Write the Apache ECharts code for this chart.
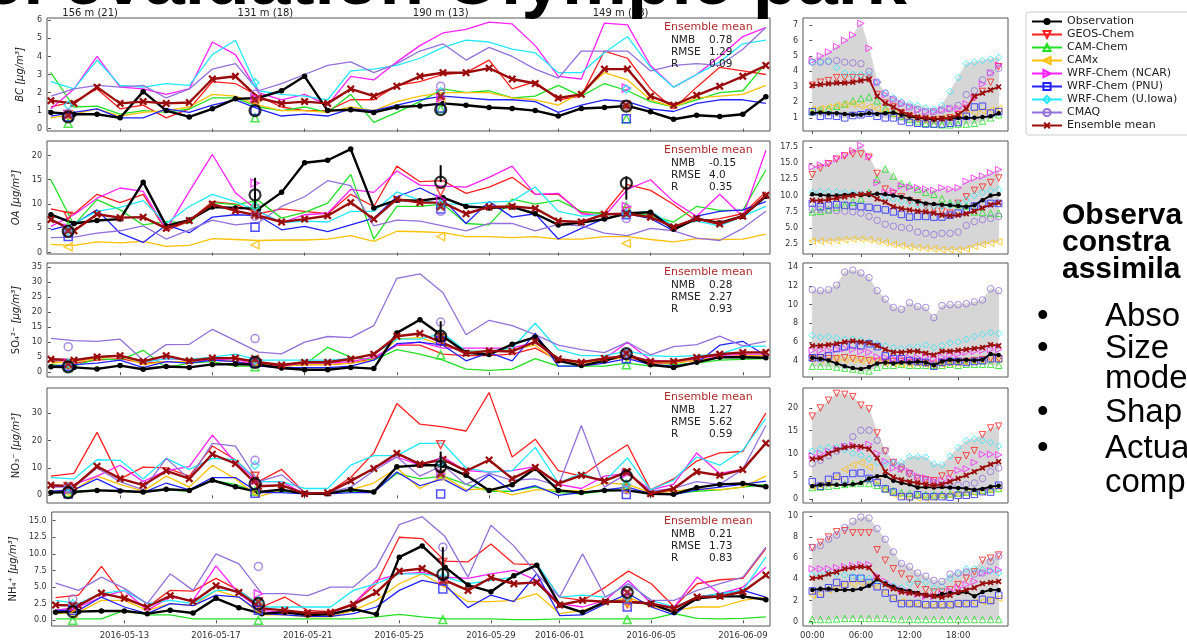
<!DOCTYPE html>
<html>
<head>
<meta charset="utf-8">
<script src="https://cdn.jsdelivr.net/npm/echarts@6/dist/echarts.min.js"></script>
<style>
  html, body { margin: 0; padding: 0; background: #ffffff; }
  #chart { width: 1187px; height: 641px; }
</style>
</head>
<body>
<div id="chart"></div>
<script>
// ---------------------------------------------------------------------------
// Data
// ---------------------------------------------------------------------------
const MODELS = ['Observation', 'GEOS-Chem', 'CAM-Chem', 'CAMx', 'WRF-Chem (NCAR)',
  'WRF-Chem (PNU)', 'WRF-Chem (U.Iowa)', 'CMAQ', 'Ensemble mean'];

// daily series start on 2016-05-10 (day 0); ticks are days since then
const DAY_TICKS = [3, 7, 11, 15, 19, 22, 26, 30];
const DAY_TICK_LABELS = ['2016-05-13', '2016-05-17', '2016-05-21', '2016-05-25',
  '2016-05-29', '2016-06-01', '2016-06-05', '2016-06-09'];
const HOUR_TICKS = [0, 6, 12, 18];
const HOUR_TICK_LABELS = ['00:00', '06:00', '12:00', '18:00'];

// vertical profile sites (day position, label)
const SITE_DAYS = [0.75, 8.85, 16.9, 24.95];
const SITE_LABEL_DAYS = [1.7, 9.3, 16.9, 24.7];
const SITE_LABELS = ['156 m (21)', '131 m (18)', '190 m (13)', '149 m (18)'];

const SPECIES_NAMES = ['BC', 'OA', 'SO₄²⁻ ', 'NO₃⁻ ', 'NH₄⁺ '];

// Ensemble-mean statistics: NMB, RMSE, R
const BC_STATS = ['0.78', '1.29', '0.09'];
const OA_STATS = ['-0.15', '4.0', '0.35'];
const SO4_STATS = ['0.28', '2.27', '0.93'];
const NO3_STATS = ['1.27', '5.62', '0.59'];
const NH4_STATS = ['0.21', '1.73', '0.83'];

// y ticks
const BC_TICKS = [0, 1, 2, 3, 4, 5, 6];
const OA_TICKS = [0, 5, 10, 15, 20];
const SO4_TICKS = [0, 5, 10, 15, 20, 25, 30, 35];
const NO3_TICKS = [0, 10, 20, 30];
const NH4_TICKS = [0, 2.5, 5, 7.5, 10, 12.5, 15];
const BC_HOUR_TICKS = [1, 2, 3, 4, 5, 6, 7];
const OA_HOUR_TICKS = [2.5, 5, 7.5, 10, 12.5, 15, 17.5];
const SO4_HOUR_TICKS = [4, 6, 8, 10, 12, 14];
const NO3_HOUR_TICKS = [0, 5, 10, 15, 20];
const NH4_HOUR_TICKS = [0, 2, 4, 6, 8, 10];

// Daily means, one row per entry of MODELS (32 days)
const BC_DAILY = [
  [0.9,0.8,0.8,0.6,2.05,1.0,0.65,1.1,1.65,1.7,2.1,2.9,1.0,1.05,0.9,1.2,1.26,1.4,1.3,1.17,1.12,1.0,0.7,1.12,1.17,1.26,0.93,0.52,0.74,0.67,0.8,1.77],
  [1.2,1.5,2.2,1.1,1.3,0.6,1.1,2.6,2.5,1.8,1.2,1.0,1.0,1.6,1.6,2.4,2.6,3.0,3.1,3.8,2.2,2.6,1.6,1.8,4.3,3.9,2.2,1.1,2.3,3.4,3.2,3.0],
  [3.1,1.2,1.25,0.8,1.0,0.9,1.1,1.7,1.7,1.2,1.0,1.2,0.9,1.9,0.35,0.9,1.5,2.2,2.0,2.1,1.7,1.8,2.4,1.8,2.5,2.1,1.5,1.2,1.6,2.0,2.1,3.6],
  [0.6,0.8,1.1,0.7,0.9,1.0,1.2,1.9,1.8,1.3,1.0,1.0,0.9,1.2,1.0,1.5,1.8,2.0,2.0,2.0,1.7,1.6,1.3,2.0,3.1,2.7,1.6,1.2,1.7,1.8,1.9,2.4],
  [1.1,2.2,4.0,2.3,2.2,1.9,2.2,4.8,4.1,2.0,1.6,1.9,1.3,2.9,2.7,3.7,4.6,5.3,5.5,5.9,5.8,4.6,2.9,2.75,5.85,5.75,3.5,2.3,3.0,4.0,5.1,5.6],
  [0.7,0.9,1.1,0.6,0.6,1.1,0.9,1.3,1.6,1.1,0.7,0.8,0.7,1.1,1.0,1.3,1.6,1.8,1.7,1.6,1.6,1.5,0.9,1.3,1.6,1.5,1.1,0.95,1.4,1.6,1.6,1.4],
  [2.6,2.2,3.8,2.4,2.3,2.5,2.4,4.1,4.9,2.1,1.9,1.8,1.6,3.2,3.3,3.5,3.9,4.5,4.9,4.8,4.4,4.2,3.1,3.1,4.2,5.1,3.4,2.3,3.0,3.7,4.7,4.9],
  [1.8,2.2,2.4,2.3,2.4,1.7,2.2,3.3,3.6,2.1,2.5,3.0,3.5,3.7,3.1,3.6,4.3,4.7,3.8,4.5,4.0,3.3,2.8,4.3,4.3,4.3,3.2,3.5,3.6,3.5,4.4,5.6],
  [1.55,1.4,2.3,1.4,1.5,1.4,1.45,2.75,2.9,1.7,1.4,1.5,1.4,2.2,1.8,2.35,2.9,3.1,3.1,3.35,2.75,2.5,1.7,1.9,3.3,3.3,1.8,1.3,1.85,2.35,2.9,3.5]
];
const OA_DAILY = [
  [7.8,6.0,6.6,6.9,14.5,5.5,6.7,9.4,9.2,9.0,12.4,18.5,19.0,21.3,9.2,10.8,10.7,11.3,9.5,9.2,9.4,8.0,5.7,6.2,6.9,8.1,8.3,4.8,7.0,6.1,7.5,11.6],
  [9.0,8.0,12.0,10.3,12.0,4.5,6.5,10.5,10.0,8.0,9.0,8.5,8.0,12.0,9.5,17.8,14.6,14.8,12.2,13.5,15.5,12.0,12.0,8.2,8.2,14.0,12.8,9.9,6.5,7.0,8.0,12.5],
  [15.0,5.7,10.9,8.8,5.7,6.4,6.1,10.3,9.9,10.7,7.1,8.3,10.2,16.1,2.8,9.5,9.5,10.0,6.0,5.7,11.0,10.0,10.8,8.5,8.0,8.0,7.7,6.3,9.5,8.7,8.7,17.0],
  [1.7,1.5,2.2,2.0,2.3,1.3,1.5,2.9,2.7,2.5,2.6,2.6,2.8,3.5,2.3,4.4,4.3,4.1,3.3,3.3,3.1,3.3,2.8,2.8,3.3,3.3,2.7,2.2,2.9,2.7,2.8,3.8],
  [5.4,7.8,11.2,13.3,12.6,4.7,12.6,20.2,12.3,8.5,6.1,7.8,8.1,13.0,12.4,16.8,13.9,13.7,13.5,15.5,17.8,12.0,12.2,8.0,7.5,13.0,15.0,10.5,7.5,12.0,7.4,21.0],
  [4.7,5.9,8.8,4.0,2.1,5.7,4.1,7.3,7.8,7.6,4.7,5.4,4.3,5.7,7.1,11.5,13.3,11.0,6.0,10.5,7.3,8.0,2.8,5.0,7.0,8.0,7.0,4.5,7.5,8.5,8.8,10.5],
  [8.0,6.0,8.5,9.3,10.7,6.0,9.5,12.0,10.5,8.5,6.2,6.5,6.3,8.5,8.5,12.5,10.8,10.0,10.0,10.4,10.6,13.5,8.5,7.5,7.8,8.0,8.5,5.5,6.5,5.5,7.5,9.5],
  [3.1,3.2,4.0,4.5,5.5,2.8,4.7,6.7,5.7,6.2,9.5,11.5,14.8,13.8,5.5,6.7,6.5,5.5,4.5,6.0,6.0,4.5,5.8,5.5,4.0,3.5,5.0,4.5,3.0,2.5,5.0,8.5],
  [6.8,4.5,7.9,7.2,7.3,5.0,6.6,10.0,8.6,7.6,6.3,6.9,7.6,10.3,6.9,11.0,10.3,10.3,8.0,9.4,9.5,9.1,6.5,6.3,7.9,8.0,7.3,5.3,7.0,5.9,7.5,11.8]
];
const SO4_DAILY = [
  [1.8,1.6,1.1,2.2,1.0,1.9,1.6,2.6,2.7,2.5,1.4,0.8,0.8,1.6,1.2,13.1,17.5,12.0,6.5,5.9,9.3,11.7,3.8,2.2,3.8,6.0,2.5,1.6,3.3,5.0,5.0,4.8],
  [3.5,3.0,4.0,4.5,3.0,3.5,3.5,4.0,3.5,2.5,2.0,2.5,2.5,3.0,4.5,9.0,9.0,6.0,5.5,5.5,6.0,8.0,4.0,3.5,4.0,5.0,3.0,3.0,4.0,5.0,5.5,5.5],
  [2.5,2.0,4.5,4.0,7.3,1.5,3.0,3.5,2.0,2.0,2.0,2.5,8.3,5.0,4.0,7.5,6.0,4.0,1.0,0.6,1.0,4.5,2.0,2.0,2.0,3.0,2.0,2.5,3.0,4.0,4.3,4.5],
  [3.0,3.5,4.5,5.5,2.5,3.5,3.5,4.5,3.5,2.0,2.0,2.5,2.5,3.0,4.0,11.0,11.5,9.0,7.0,7.0,7.5,9.0,3.5,3.0,4.0,5.0,3.5,3.0,4.0,5.0,5.5,5.5],
  [4.5,4.0,5.0,5.5,3.5,4.5,4.0,4.0,4.5,2.0,2.0,3.0,3.0,3.5,5.0,9.0,10.0,8.0,8.0,8.0,8.0,10.0,4.0,3.5,4.5,10.0,4.0,3.5,4.5,5.5,6.0,6.0],
  [2.0,2.5,3.0,4.0,1.5,3.5,3.0,4.0,3.5,2.0,1.5,1.5,1.5,2.0,4.0,9.5,10.0,9.0,3.8,6.5,3.8,13.0,2.0,2.0,3.0,4.5,2.5,2.0,3.0,9.0,10.3,5.5],
  [4.0,4.2,5.0,5.5,3.3,4.5,4.3,5.0,6.0,4.0,4.0,4.0,4.0,4.5,6.0,11.0,11.0,13.0,7.0,7.0,8.0,16.3,7.5,5.5,5.5,7.0,5.5,5.2,5.5,6.0,8.5,8.7],
  [11.3,10.5,10.3,11.0,4.0,9.2,9.3,14.3,10.5,6.7,6.1,10.0,11.9,11.5,15.5,31.3,32.8,26.5,12.5,17.3,15.5,12.5,9.0,7.5,6.5,10.0,5.8,8.5,9.2,12.0,8.8,10.3],
  [4.3,4.0,5.1,5.5,3.6,5.5,3.8,4.7,4.7,3.3,2.4,3.3,3.3,4.4,6.0,12.0,12.9,9.8,6.3,7.1,6.9,10.2,4.4,3.3,4.6,5.5,3.6,3.6,4.9,6.0,6.6,6.6]
];
const NO3_DAILY = [
  [1.0,1.2,1.8,1.6,1.2,2.2,1.8,5.5,3.1,1.2,2.1,0.6,0.6,2.1,1.2,10.4,11.0,11.0,7.3,1.8,3.9,9.8,1.8,1.0,1.8,1.8,0.6,0.4,2.8,4.0,4.3,3.1],
  [7,8,23,6,10.3,10,7,18,13,5,9.5,1,1,6.5,15.5,33.5,26,25,23.5,37.5,14,20.5,9,7,13,18.5,2,6,12.5,15.5,16,30],
  [1.2,1.5,2,1.5,1.2,2,1.5,5.5,4,1,1.5,0.5,0.5,1.5,1.5,8,6,7,4,1.5,1.5,3,1,0.5,1.5,2,0.5,0.5,1.5,2,3,4],
  [1,2,7,4,1.5,7,3,11,6,-0.5,2,0.5,0.5,2,4.5,10,2.5,7,2,2.5,0.2,2,2,1.5,4.5,4,1,1.5,2.5,2,3,7],
  [3,4,7,11,5,9,10.5,22,12,5,5,0.5,1,5,10,14,11,14,9,8.5,9,10.5,4,2.5,7,8,2,4,15.5,8,9.5,19],
  [1.5,2,6,2,1,4.5,2,6.5,6.5,1,1,0.5,0.5,1,1,8.5,3.5,6,1.5,7.5,1.5,3.5,0,1,2,3,0.5,0.3,2,3,4,5.2],
  [6.5,6,13,12.8,6,13.5,9.5,13.5,13,5,5,2.5,2.5,11,14.5,14.5,19,19,10,8.5,9,17.5,4.5,8,5,13.7,2,5.5,14,11,16.5,28],
  [3,3,10,5,2,13.5,6,19,18,5,7.5,1,1,3,9,14,7,11,4,8,5.5,6,3.5,25.5,3,8,1.5,2.5,5,4,9.5,25.5],
  [3.7,3.3,10.6,6.1,3.7,8.9,6.1,15.0,11.6,3.3,3.7,0.6,0.9,5.3,9.8,15.3,11.4,13.1,8.9,12.9,6.1,10.2,4.3,7.3,5.3,8.6,0.6,2.4,8.6,7.3,9.4,19.0]
];
const NH4_DAILY = [
  [1.2,1.3,1.4,1.4,1.0,1.5,1.1,3.3,1.9,1.0,1.2,0.8,0.9,1.7,0.9,9.5,11.2,8.0,5.3,4.3,6.7,8.3,2.3,1.2,2.8,2.8,2.5,1.2,3.3,3.6,3.6,3.1],
  [3.4,3.8,8.1,3.5,2.0,4.5,4.4,6.3,4.5,2.0,3.5,1.5,1.3,2.5,5.5,12.5,12.3,8.9,8.8,11.5,8.5,8.4,3.5,3.0,5.0,7.4,5.5,2.0,5.5,6.1,6.3,10.8],
  [0.2,0.2,0.2,1.5,0.8,0.8,0.2,0.2,0.2,0.2,0.2,0.2,0.2,0.2,0.5,0.9,0.5,0.2,0.2,0.2,0.1,0.1,0.2,0.2,0.2,0.2,0.2,1.0,0.3,0.2,0.3,0.5],
  [1.0,1.2,3.0,3.0,1.5,2.5,2.2,4.5,3.5,0.8,0.8,0.5,0.5,1.5,3.0,5.5,7.0,5.0,2.8,2.8,3.0,4.0,1.0,1.5,2.5,3.5,2.0,1.5,2.0,2.0,3.0,3.5],
  [1.5,2.0,3.5,4.5,1.5,3.5,3.0,8.2,4.0,1.5,1.2,0.8,1.0,2.5,6.0,7.0,7.2,6.5,6.3,7.0,7.5,6.0,2.5,2.0,3.0,6.0,2.5,2.0,6.5,4.0,5.0,8.0],
  [1.5,1.5,3.5,2.0,1.0,2.5,2.2,3.8,3.5,1.0,0.8,0.6,0.6,1.0,2.0,4.5,6.0,5.3,1.9,3.8,2.8,7.0,0.7,0.8,2.5,4.0,2.0,0.8,3.5,4.0,4.5,3.5],
  [3.0,2.5,4.0,4.5,2.5,3.0,2.5,4.5,4.5,2.0,2.0,2.0,2.0,4.5,5.5,7.0,7.0,6.5,5.5,6.0,6.5,8.5,3.5,3.8,3.5,5.5,3.0,2.0,3.5,4.0,4.5,9.5],
  [5.6,4.5,6.5,4.8,2.5,7.0,4.5,10.0,8.5,4.0,4.0,3.7,5.0,5.0,8.0,14.4,15.6,12.6,6.5,14.3,11.2,7.0,3.5,10.0,3.5,5.5,3.0,3.0,4.5,5.5,6.5,11.0],
  [2.3,2.2,4.1,3.3,2.0,3.7,2.8,5.2,4.2,1.8,1.5,1.1,1.2,2.4,4.2,7.4,7.8,6.0,4.5,6.4,5.5,5.7,2.3,3.0,2.8,2.8,2.5,1.8,3.5,3.6,4.3,6.8]
];

// Mean diurnal cycle (hours 0-23), same row order
const BC_HOURLY = [
  [1.3,1.35,1.3,1.3,1.25,1.2,1.2,1.3,1.25,1.3,1.35,1.2,1.1,1.0,0.95,0.9,0.95,0.95,1.0,1.0,1.0,1.05,1.1,1.3],
  [3.1,3.3,3.4,3.6,3.6,3.6,3.6,3.5,2.5,1.95,1.7,1.3,1.1,0.95,0.9,0.85,0.9,1.0,1.2,1.6,2.3,2.7,3.3,4.3],
  [1.4,1.55,1.6,1.75,1.9,2.1,2.25,2.35,2.1,1.6,1.3,1.1,0.9,0.75,0.65,0.6,0.55,0.55,0.6,0.6,0.65,0.8,1.0,1.2],
  [1.55,1.6,1.7,1.8,1.85,1.9,1.8,1.7,1.6,1.4,1.25,1.1,1.0,0.95,0.9,0.9,0.95,1.0,1.1,1.2,1.35,1.45,1.5,1.6],
  [4.7,5.0,5.25,5.6,6.0,6.35,7.1,5.5,3.3,2.5,2.2,1.9,1.7,1.5,1.4,1.4,1.5,1.6,1.6,1.9,2.3,3.2,3.9,4.4],
  [1.4,1.1,1.15,1.1,1.0,1.15,1.2,1.3,1.1,1.0,1.0,0.8,0.7,0.65,0.6,0.6,0.6,0.65,0.7,1.1,1.7,1.75,1.3,1.4],
  [4.6,4.6,4.65,4.25,3.9,3.8,3.8,3.8,3.3,2.6,2.3,2.05,1.9,1.8,1.65,1.55,1.8,2.7,3.6,4.5,4.6,4.7,4.8,4.9],
  [4.6,4.6,4.65,4.7,4.6,4.55,4.5,4.0,3.3,2.6,2.2,1.95,1.7,1.55,1.4,1.4,1.5,1.6,1.8,2.5,2.75,3.45,3.9,4.2],
  [3.1,3.15,3.2,3.25,3.25,3.3,3.4,3.5,2.4,1.95,1.7,1.4,1.2,1.05,1.0,0.95,0.95,1.0,1.2,1.6,2.4,2.6,2.8,3.0]
];
const OA_HOURLY = [
  [10.2,10.1,10.0,10.0,10.1,10.2,10.1,10.1,10.3,10.2,10.0,9.8,9.5,9.1,8.8,8.7,8.6,8.5,8.4,8.3,8.5,9.3,10.0,10.2],
  [13.2,14.2,14.9,15.6,16.1,16.4,16.4,15.9,13.4,11.0,10.3,9.8,9.2,8.9,8.4,8.0,7.6,7.3,8.8,9.8,10.8,11.3,12.0,12.7],
  [7.5,7.6,7.8,8.2,8.5,9.0,9.5,10.5,12.5,14.1,13.0,11.9,11.6,11.0,10.5,10.2,9.5,8.9,8.6,8.4,7.5,7.4,7.3,7.3],
  [3.0,3.0,3.0,3.1,3.2,3.3,3.3,3.2,3.0,2.8,2.5,2.3,2.1,2.0,1.9,1.8,1.7,1.7,1.7,1.8,2.2,2.5,2.7,2.9],
  [14.4,14.7,15.0,15.7,16.2,16.9,17.7,16.0,12.0,10.5,10.7,11.5,11.3,11.2,11.0,10.8,11.2,11.0,11.2,12.2,12.7,13.0,13.5,14.0],
  [8.8,8.3,8.5,8.6,8.5,8.4,8.3,8.2,8.0,7.8,7.5,7.1,6.7,6.8,6.8,6.7,6.7,7.0,7.3,7.8,8.4,8.7,8.8,8.8],
  [10.5,10.6,10.6,10.6,10.5,10.4,10.3,10.2,10.0,9.8,9.5,9.2,8.9,8.6,8.5,8.4,8.4,8.5,8.8,9.3,10.0,10.5,10.8,10.9],
  [8.0,7.9,7.8,7.7,7.6,7.5,7.3,6.8,6.2,5.6,5.3,5.1,5.0,4.4,4.2,4.0,4.2,4.2,4.4,5.4,6.0,6.3,6.5,6.8],
  [9.3,9.2,9.4,9.6,9.8,10.0,10.2,10.3,9.5,9.0,8.3,8.0,7.8,7.6,7.5,7.3,7.0,6.9,7.0,7.2,7.6,8.1,8.6,8.9]
];
const SO4_HOURLY = [
  [4.3,4.2,4.0,3.7,3.4,3.2,3.1,3.3,3.7,3.8,3.7,3.8,3.8,3.9,3.8,3.5,3.9,4.1,4.0,4.1,4.0,4.1,4.7,4.6],
  [4.2,4.3,4.2,4.2,4.3,4.2,4.1,4.0,3.9,3.8,3.9,3.9,3.8,3.8,3.7,3.6,3.8,3.8,3.9,3.9,4.0,4.1,4.2,4.2],
  [3.4,3.4,3.4,3.3,3.2,3.1,3.0,2.9,3.3,3.5,3.5,3.6,3.5,3.5,3.5,3.5,3.5,3.6,3.5,3.6,3.6,3.6,3.6,3.5],
  [4.2,4.1,4.1,4.2,4.1,4.1,4.0,4.0,4.0,3.8,3.7,3.6,3.6,3.7,3.6,3.5,3.6,3.7,3.7,3.8,3.9,4.0,4.1,4.1],
  [5.1,5.1,5.1,5.2,5.3,5.2,5.0,4.9,4.4,4.3,4.2,4.2,4.3,4.3,4.4,4.2,4.4,4.6,4.7,4.9,5.0,5.1,5.2,5.2],
  [4.3,4.3,4.5,5.3,5.5,5.7,5.6,5.8,5.5,4.5,4.2,4.2,4.0,3.9,3.8,3.4,3.8,3.9,3.9,3.8,3.9,4.0,4.2,4.2],
  [6.7,6.5,6.6,6.4,6.3,6.3,6.2,6.0,5.8,5.6,5.4,5.3,5.4,5.5,5.7,5.4,5.6,5.9,6.0,6.3,6.6,6.8,7.0,6.9],
  [11.6,11.5,11.6,12.1,13.5,13.7,13.4,12.9,11.5,10.6,9.7,9.5,10.2,9.8,9.7,8.6,9.9,10.0,10.0,10.1,10.3,10.5,11.7,11.5],
  [5.6,5.6,5.7,5.8,6.0,6.1,6.0,5.9,5.6,5.2,4.9,4.9,5.0,5.0,4.8,4.6,5.0,5.0,5.1,5.2,5.3,5.4,5.7,5.6]
];
const NO3_HOURLY = [
  [2.8,3.1,3.2,3.1,3.1,3.2,3.5,4.5,5.0,5.1,4.0,3.5,3.2,2.5,2.6,2.5,2.6,2.5,2.4,2.3,2.0,2.2,2.7,2.9],
  [18.2,20.0,21.7,23.2,23.0,22.5,20.6,19.8,14.5,10.5,8.0,6.5,5.5,4.5,4.2,4.0,5.0,5.5,8.4,9.5,10.6,14.1,15.6,16.0],
  [2.5,2.6,2.8,3.0,3.2,3.4,3.5,3.4,3.0,2.4,1.8,1.4,1.2,1.0,0.9,0.9,1.0,1.1,1.3,1.5,1.7,1.9,2.1,2.3],
  [2.8,3.0,3.5,4.8,6.5,7.5,8.0,7.0,4.0,2.0,1.0,0.5,0.3,0.2,0.2,0.3,0.5,0.8,1.0,1.2,1.3,1.5,2.0,2.5],
  [9.5,10.0,10.5,11.0,11.5,11.8,11.2,12.0,10.0,8.2,6.8,6.6,6.0,5.0,4.6,4.0,4.0,4.5,6.3,6.6,8.0,9.8,9.8,9.7],
  [3.8,2.8,4.3,5.0,4.2,5.6,5.7,4.5,3.6,2.2,1.5,0.5,0.5,0.9,0.5,0.5,0.5,0.4,0.8,0.8,1.0,1.6,1.5,3.0],
  [10.5,11.0,11.3,11.3,10.8,10.0,9.6,8.8,8.0,7.8,7.8,8.0,9.3,9.3,9.2,7.7,7.5,9.4,11.3,12.8,13.2,12.8,12.4,11.6],
  [7.8,8.5,9.5,10.5,11.5,13.7,15.1,15.1,12.9,10.6,8.0,7.0,5.5,4.5,4.0,3.5,3.0,2.8,3.0,3.2,3.5,4.5,6.0,6.8],
  [8.8,9.0,10.0,10.8,11.3,11.6,11.5,11.0,9.0,6.0,4.8,4.2,3.8,3.5,3.2,3.0,3.2,3.8,4.5,5.2,6.0,6.8,7.6,8.2]
];
const NH4_HOURLY = [
  [3.0,3.1,3.1,3.0,3.0,3.0,3.1,3.4,4.0,3.6,3.3,3.0,2.9,2.7,2.5,2.4,2.6,2.7,2.7,2.8,2.4,2.8,3.0,3.0],
  [7.0,7.5,8.0,8.5,8.6,8.4,8.4,8.4,6.8,5.8,5.0,4.5,4.0,3.5,3.0,2.8,2.8,3.0,3.5,4.1,4.7,5.8,6.0,6.3],
  [0.2,0.2,0.2,0.25,0.3,0.3,0.3,0.3,0.3,0.3,0.25,0.2,0.2,0.2,0.2,0.2,0.2,0.2,0.2,0.2,0.2,0.2,0.2,0.2],
  [2.5,2.7,3.0,3.2,3.5,3.6,3.7,3.6,3.3,2.8,2.3,1.9,1.7,1.6,1.5,1.5,1.5,1.6,1.6,1.7,1.8,1.9,2.0,2.2],
  [5.0,5.0,5.0,5.1,5.2,5.3,5.4,5.4,4.3,3.8,3.3,3.0,2.8,2.6,2.4,2.4,2.6,2.9,3.2,3.5,3.8,4.6,4.8,4.9],
  [2.9,2.6,3.2,3.7,3.5,4.1,4.1,3.7,3.3,2.7,2.2,1.7,1.7,1.7,1.6,1.6,1.6,1.6,1.7,1.7,1.7,2.1,2.0,2.5],
  [4.4,4.4,4.6,4.5,4.4,4.3,4.2,4.1,3.9,3.6,3.4,3.2,3.6,3.8,3.7,3.2,3.3,4.1,4.5,5.0,5.0,4.9,4.8,4.6],
  [7.0,7.2,7.8,8.2,8.9,9.5,9.9,9.8,8.8,7.8,6.6,5.5,5.2,4.6,4.3,3.9,3.8,4.5,4.6,4.7,4.5,4.6,5.7,6.2],
  [4.1,4.2,4.5,4.7,5.0,5.1,5.2,5.1,4.2,3.5,3.1,2.8,2.7,2.6,2.5,2.4,2.3,2.5,2.8,3.0,3.2,3.6,3.7,3.8]
];

// Values at the four profile sites, same row order
const BC_SITES = [
  [0.65,1.0,1.05,1.25],[0.75,1.6,1.9,1.3],[0.3,0.6,1.1,0.55],[0.7,1.5,1.5,1.15],[0.8,1.7,1.7,2.25],
  [0.65,1.0,1.15,0.55],[1.3,2.55,2.05,2.2],[0.85,1.9,2.35,1.3],[0.75,1.6,1.8,1.3]
];
const OA_SITES = [
  [4.4,11.9,14.5,14.3],[7.5,9.0,12.5,8.5],[5.5,10.0,10.0,9.5],[1.2,1.6,3.3,1.9],[5.0,14.3,11.0,9.5],
  [3.3,5.2,9.0,7.8],[4.5,9.5,10.0,8.0],[4.0,7.5,8.5,7.0],[4.5,7.8,9.5,8.0]
];
const SO4_SITES = [
  [1.8,3.3,12.0,6.2],[2.5,3.0,11.5,5.5],[1.6,1.8,5.8,2.5],[2.5,3.5,11.0,5.0],[3.0,3.5,10.5,5.5],
  [2.0,3.0,10.5,4.5],[3.0,4.0,13.0,6.5],[8.5,11.2,16.7,6.0],[2.8,4.5,12.0,6.3]
];
const NO3_SITES = [
  [1.0,4.2,10.5,7.0],[3.0,7.0,18.5,2.5],[1.0,1.5,8.0,4.0],[1.0,1.0,7.0,2.0],[2.0,5.5,8.0,8.0],
  [0.5,0.8,0.5,0.3],[3.0,11.0,12.0,4.0],[2.5,12.8,7.0,2.0],[3.5,5.5,8.0,8.5]
];
const NH4_SITES = [
  [1.3,2.5,6.9,4.2],[2.0,2.8,8.7,2.5],[0.0,0.0,0.1,0.1],[1.0,1.5,5.5,2.5],[2.0,4.0,6.0,4.0],
  [1.5,1.5,4.7,2.0],[2.5,3.0,6.5,3.5],[3.2,8.1,11.0,2.0],[2.2,2.8,6.0,4.2]
];
// Observation uncertainty at the sites (low, high); null where not drawn
const BC_ERR_LO = [null, null, null, null];
const BC_ERR_HI = [null, null, null, null];
const OA_ERR_LO = [null, 9.2, 14.5, 10.9];
const OA_ERR_HI = [null, 15.4, 18.0, 15.7];
const SO4_ERR_LO = [null, null, 10.0, null];
const SO4_ERR_HI = [null, null, 17.0, null];
const NO3_ERR_LO = [null, null, 9.0, null];
const NO3_ERR_HI = [null, null, 16.0, null];
const NH4_ERR_LO = [null, null, 6.0, null];
const NH4_ERR_HI = [null, null, 11.0, null];

// ---------------------------------------------------------------------------
// Layout and style
// ---------------------------------------------------------------------------
const COLORS = ['#000000', '#ff2020', '#22e022', '#ffc107', '#ff22ff', '#2222ff', '#22e8ff', '#9370db', '#9a0c0c'];
const X_PATH = 'path://M2,0L5,3L8,0L10,2L7,5L10,8L8,10L5,7L2,10L0,8L3,5L0,2Z';
const MARKERS = [
  { s: 'circle', r: 0 }, { s: 'triangle', r: 180 }, { s: 'triangle', r: 0 }, { s: 'triangle', r: 90 },
  { s: 'triangle', r: -90 }, { s: 'rect', r: 0 }, { s: 'diamond', r: 0 }, { s: 'circle', r: 0 }, { s: X_PATH, r: 0 }
];
const FONT = '"DejaVu Sans", "Liberation Sans", sans-serif';
const SLIDE_FONT = '"Liberation Sans", Arial, sans-serif';
const BAND_COLOR = '#d6d6d6';

const TS_LEFT = 47, TS_WIDTH = 723;
const HR_LEFT = 803, HR_WIDTH = 205;
const ROWS = [[18, 131], [141, 254], [263, 377], [388, 503], [512, 626]];
const TS_RANGE = [[-0.13, 6.13], [-0.28, 22.97], [-1.6, 36.4], [-2.8, 39.2], [-0.86, 16.3]];
const HR_RANGE = [[0.15, 7.45], [1.02, 18.4], [2.24, 14.47], [-0.9, 24.4], [-0.42, 10.38]];
const DAY_RANGE = [-0.17, 31.18];
const HOUR_RANGE = [-1.15, 24.15];

const PANELS = [
  { daily: BC_DAILY, hourly: BC_HOURLY, sites: BC_SITES, lo: BC_ERR_LO, hi: BC_ERR_HI, stats: BC_STATS, ticks: BC_TICKS, hticks: BC_HOUR_TICKS, dec: 0, hdec: 0 },
  { daily: OA_DAILY, hourly: OA_HOURLY, sites: OA_SITES, lo: OA_ERR_LO, hi: OA_ERR_HI, stats: OA_STATS, ticks: OA_TICKS, hticks: OA_HOUR_TICKS, dec: 0, hdec: 1 },
  { daily: SO4_DAILY, hourly: SO4_HOURLY, sites: SO4_SITES, lo: SO4_ERR_LO, hi: SO4_ERR_HI, stats: SO4_STATS, ticks: SO4_TICKS, hticks: SO4_HOUR_TICKS, dec: 0, hdec: 0 },
  { daily: NO3_DAILY, hourly: NO3_HOURLY, sites: NO3_SITES, lo: NO3_ERR_LO, hi: NO3_ERR_HI, stats: NO3_STATS, ticks: NO3_TICKS, hticks: NO3_HOUR_TICKS, dec: 0, hdec: 0 },
  { daily: NH4_DAILY, hourly: NH4_HOURLY, sites: NH4_SITES, lo: NH4_ERR_LO, hi: NH4_ERR_HI, stats: NH4_STATS, ticks: NH4_TICKS, hticks: NH4_HOUR_TICKS, dec: 1, hdec: 0 }
];

function nearestLabel(positions, labels, v) {
  let best = 0;
  positions.forEach((p, i) => { if (Math.abs(p - v) < Math.abs(positions[best] - v)) best = i; });
  return labels[best];
}

const grids = [], xAxes = [], yAxes = [], series = [], graphics = [];
const tickStyle = { show: true, length: 3, lineStyle: { color: '#555', width: 1 } };
const labelBase = { fontFamily: FONT, fontSize: 8, color: '#333' };

PANELS.forEach((p, i) => {
  const [top, bottom] = ROWS[i];
  const last = i === PANELS.length - 1;
  // daily panel
  grids.push({ left: TS_LEFT, top, width: TS_WIDTH, height: bottom - top, show: true, borderColor: '#555', borderWidth: 1, backgroundColor: '#fff' });
  xAxes.push({
    type: 'value', gridIndex: i, min: DAY_RANGE[0], max: DAY_RANGE[1],
    axisLine: { show: false }, splitLine: { show: false },
    axisTick: Object.assign({ customValues: DAY_TICKS }, tickStyle),
    axisLabel: { show: last, customValues: DAY_TICKS, margin: 5, ...labelBase, fontSize: 8.5,
      formatter: v => nearestLabel(DAY_TICKS, DAY_TICK_LABELS, v) }
  });
  yAxes.push({
    type: 'value', gridIndex: i, min: TS_RANGE[i][0], max: TS_RANGE[i][1],
    axisLine: { show: false }, splitLine: { show: false },
    axisTick: Object.assign({ customValues: p.ticks }, tickStyle),
    axisLabel: { customValues: p.ticks, margin: 5, ...labelBase, formatter: v => v.toFixed(p.dec) },
    name: (i < 2 ? '{i|' + SPECIES_NAMES[i] + ' [μg/m³]}' : '{n|' + SPECIES_NAMES[i] + '}{i|[μg/m³]}'),
    nameLocation: 'middle', nameGap: 22, nameRotate: 90,
    nameTextStyle: { rich: {
      i: { fontFamily: FONT, fontSize: 10, fontStyle: 'italic', color: '#222' },
      n: { fontFamily: FONT, fontSize: 10, color: '#222' } } }
  });
});
PANELS.forEach((p, i) => {
  const [top, bottom] = ROWS[i];
  const last = i === PANELS.length - 1;
  grids.push({ left: HR_LEFT, top, width: HR_WIDTH, height: bottom - top, show: true, borderColor: '#555', borderWidth: 1, backgroundColor: '#fff' });
  xAxes.push({
    type: 'value', gridIndex: 5 + i, min: HOUR_RANGE[0], max: HOUR_RANGE[1],
    axisLine: { show: false }, splitLine: { show: false },
    axisTick: Object.assign({ customValues: HOUR_TICKS }, tickStyle),
    axisLabel: { show: last, customValues: HOUR_TICKS, margin: 5, ...labelBase, fontSize: 8.5,
      formatter: v => nearestLabel(HOUR_TICKS, HOUR_TICK_LABELS, v) }
  });
  yAxes.push({
    type: 'value', gridIndex: 5 + i, min: HR_RANGE[i][0], max: HR_RANGE[i][1],
    axisLine: { show: false }, splitLine: { show: false },
    axisTick: Object.assign({ customValues: p.hticks }, tickStyle),
    axisLabel: { customValues: p.hticks, margin: 5, ...labelBase, formatter: v => v.toFixed(p.hdec) }
  });
});
// site labels above the first daily panel
xAxes.push({
  type: 'value', gridIndex: 0, position: 'top', min: DAY_RANGE[0], max: DAY_RANGE[1],
  axisLine: { show: false }, axisTick: { show: false }, splitLine: { show: false },
  axisLabel: { customValues: SITE_LABEL_DAYS, margin: 0, fontFamily: FONT, fontSize: 10, color: '#222',
    formatter: v => nearestLabel(SITE_LABEL_DAYS, SITE_LABELS, v) }
});

function hollowStyle(k, bw) {
  return { color: 'rgba(255,255,255,0)', borderColor: COLORS[k], borderWidth: bw };
}

// legend entries (first series carrying each name)
MODELS.forEach((name, k) => {
  const strong = k === 0 || k === 8;
  series.push({
    type: 'line', name, data: [], xAxisIndex: 0, yAxisIndex: 0,
    symbol: MARKERS[k].s, symbolRotate: MARKERS[k].r, symbolSize: 8,
    lineStyle: { color: COLORS[k], width: strong ? 2.5 : 1.6 },
    itemStyle: strong ? { color: COLORS[k] } : hollowStyle(k, 1.4)
  });
});

PANELS.forEach((p, i) => {
  // daily model lines
  for (let k = 1; k <= 7; k++) {
    series.push({
      type: 'line', name: MODELS[k], xAxisIndex: i, yAxisIndex: i, z: 2,
      data: p.daily[k].map((v, d) => [d, v]), symbol: 'none',
      lineStyle: { color: COLORS[k], width: 1.3 }, itemStyle: { color: COLORS[k] }
    });
  }
  series.push({
    type: 'line', name: MODELS[0], xAxisIndex: i, yAxisIndex: i, z: 3,
    data: p.daily[0].map((v, d) => [d, v]), symbol: 'circle', symbolSize: 5.5,
    lineStyle: { color: '#000', width: 2.4 }, itemStyle: { color: '#000' }
  });
  series.push({
    type: 'line', name: MODELS[8], xAxisIndex: i, yAxisIndex: i, z: 4,
    data: p.daily[8].map((v, d) => [d, v]), symbol: X_PATH, symbolSize: 8,
    lineStyle: { color: COLORS[8], width: 2.4 }, itemStyle: { color: COLORS[8] }
  });
  // site values
  for (let k = 1; k <= 8; k++) {
    series.push({
      type: 'scatter', name: MODELS[k], xAxisIndex: i, yAxisIndex: i, z: 5,
      data: SITE_DAYS.map((x, j) => [x, p.sites[k][j]]),
      symbol: MARKERS[k].s, symbolRotate: MARKERS[k].r, symbolSize: k === 8 ? 9 : 8,
      itemStyle: k === 8 ? { color: COLORS[8] } : hollowStyle(k, 1.5)
    });
  }
  series.push({
    type: 'custom', name: MODELS[0], xAxisIndex: i, yAxisIndex: i, z: 6,
    data: SITE_DAYS.map((x, j) => [x, p.lo[j], p.hi[j]]).filter(d => d[1] !== null),
    encode: { x: 0, y: [1, 2] },
    renderItem: (params, api) => {
      const a = api.coord([api.value(0), api.value(1)]);
      const b = api.coord([api.value(0), api.value(2)]);
      return { type: 'line', shape: { x1: a[0], y1: a[1], x2: b[0], y2: b[1] }, style: { stroke: '#000', lineWidth: 2 } };
    }
  });
  series.push({
    type: 'scatter', name: MODELS[0], xAxisIndex: i, yAxisIndex: i, z: 7,
    data: SITE_DAYS.map((x, j) => [x, p.sites[0][j]]),
    symbol: 'circle', symbolSize: 11, itemStyle: hollowStyle(0, 2.2)
  });

  // diurnal panel: spread of the models, drawn hour by hour as quads
  const gi = 5 + i;
  const hours = p.hourly[0].map((_, h) => h);
  const lower = hours.map(h => Math.min(...p.hourly.slice(1, 8).map(r => r[h])));
  const upper = hours.map(h => Math.max(...p.hourly.slice(1, 8).map(r => r[h])));
  series.push({
    type: 'custom', xAxisIndex: gi, yAxisIndex: gi, z: 1, silent: true,
    data: hours.slice(0, -1).map(h => [h, lower[h], upper[h], lower[h + 1], upper[h + 1]]),
    encode: { x: 0, y: [1, 2] },
    renderItem: (params, api) => {
      const h = api.value(0);
      const pts = [
        api.coord([h, api.value(1)]), api.coord([h, api.value(2)]),
        api.coord([h + 1, api.value(4)]), api.coord([h + 1, api.value(3)])
      ];
      return { type: 'polygon', shape: { points: pts }, style: { fill: BAND_COLOR, stroke: BAND_COLOR, lineWidth: 0.8 } };
    }
  });
  for (let k = 1; k <= 7; k++) {
    series.push({
      type: 'scatter', name: MODELS[k], xAxisIndex: gi, yAxisIndex: gi, z: 3,
      data: p.hourly[k].map((v, h) => [h, v]),
      symbol: MARKERS[k].s, symbolRotate: MARKERS[k].r, symbolSize: 6.5,
      itemStyle: hollowStyle(k, 1)
    });
  }
  series.push({
    type: 'line', name: MODELS[0], xAxisIndex: gi, yAxisIndex: gi, z: 4,
    data: p.hourly[0].map((v, h) => [h, v]), symbol: 'circle', symbolSize: 4.5,
    lineStyle: { color: '#000', width: 1.8 }, itemStyle: { color: '#000' }
  });
  series.push({
    type: 'line', name: MODELS[8], xAxisIndex: gi, yAxisIndex: gi, z: 5,
    data: p.hourly[8].map((v, h) => [h, v]), symbol: X_PATH, symbolSize: 6,
    lineStyle: { color: COLORS[8], width: 1.8 }, itemStyle: { color: COLORS[8] }
  });

  // ensemble statistics box
  const top = ROWS[i][0];
  graphics.push({ type: 'text', left: 664, top: top + 4, z: 50,
    style: { text: 'Ensemble mean', fill: '#b22a2a', font: '11px ' + FONT } });
  ['NMB', 'RMSE', 'R'].forEach((lab, j) => {
    graphics.push({ type: 'text', left: 671, top: top + 17 + j * 12, z: 50,
      style: { text: lab, fill: '#222', font: '10.5px ' + FONT } });
    graphics.push({ type: 'text', left: 709, top: top + 17 + j * 12, z: 50,
      style: { text: p.stats[j], fill: '#222', font: '10.5px ' + FONT } });
  });
});

// slide heading (runs off the top edge) and side notes
graphics.push({ type: 'text', left: -62, top: -53, z: 60,
  style: { text: 'der', fill: '#000', font: 'bold 73px ' + SLIDE_FONT } });
graphics.push({ type: 'text', left: 63, top: -53, z: 60,
  style: { text: 'evaluation Olympic park', fill: '#000', font: 'bold 73px ' + SLIDE_FONT } });
const NOTE_BOLD = ['Observa', 'constra', 'assimila'];
NOTE_BOLD.forEach((t, j) => graphics.push({ type: 'text', left: 1062, top: 201 + j * 27, z: 60,
  style: { text: t, fill: '#000', font: 'bold 30px ' + SLIDE_FONT } }));
const BULLETS = [['•', 'Abso', 300], ['•', 'Size', 332], ['', 'mode', 362], ['•', 'Shap', 396], ['•', 'Actua', 432], ['', 'comp', 466]];
BULLETS.forEach(([b, t, y]) => {
  if (b) graphics.push({ type: 'text', left: 1037, top: y, z: 60, style: { text: b, fill: '#000', font: '33px ' + SLIDE_FONT } });
  graphics.push({ type: 'text', left: 1105, top: y, z: 60, style: { text: t, fill: '#000', font: '33px ' + SLIDE_FONT } });
});

const chart = echarts.init(document.getElementById('chart'), null, { renderer: 'canvas' });
chart.setOption({
  animation: false,
  backgroundColor: '#ffffff',
  grid: grids,
  xAxis: xAxes,
  yAxis: yAxes,
  legend: {
    data: MODELS, left: 1026, top: 12, orient: 'vertical',
    itemWidth: 30, itemHeight: 9, itemGap: 0,
    padding: [3, 40, 3, 5], backgroundColor: '#fff', borderColor: '#ccc', borderWidth: 1, borderRadius: 3,
    textStyle: { fontFamily: FONT, fontSize: 11, color: '#222', lineHeight: 13 },
    selectedMode: false
  },
  series,
  graphic: graphics
});
</script>
</body>
</html>
